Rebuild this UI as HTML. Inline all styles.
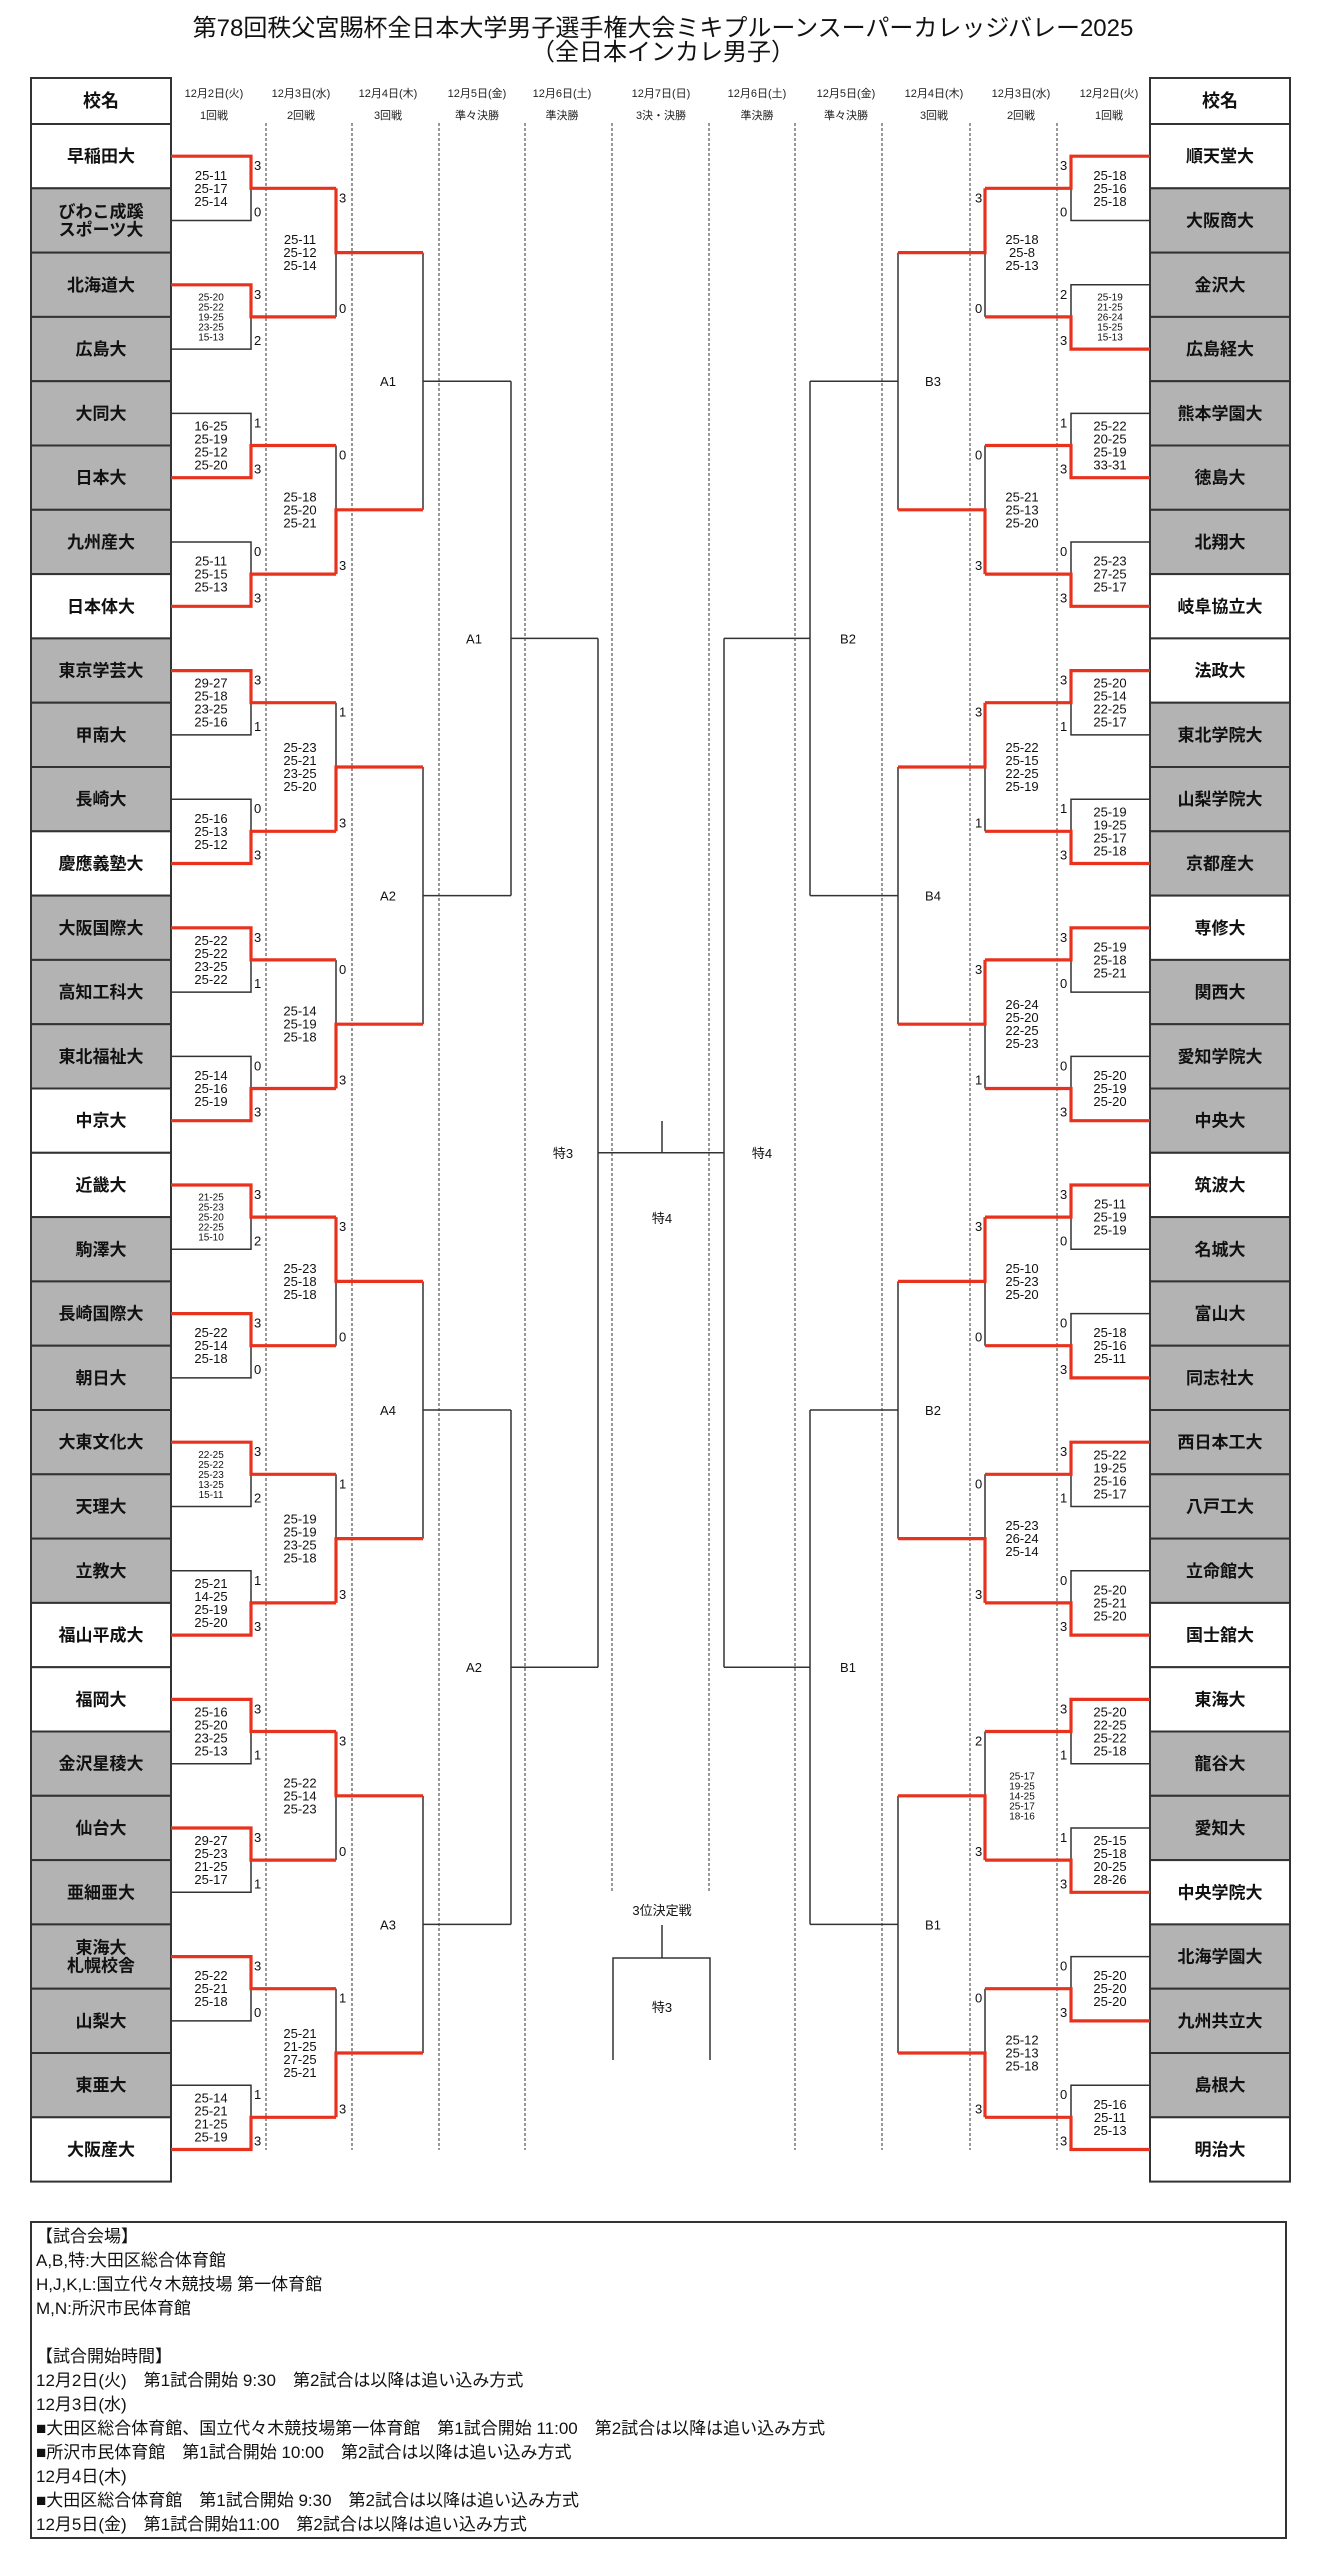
<!DOCTYPE html>
<html><head><meta charset="utf-8">
<style>
html,body{margin:0;padding:0;background:#fff;}
svg{display:block;font-family:"Liberation Sans","Noto Sans CJK JP",sans-serif;}
.nm{font-size:17px;font-weight:bold;text-anchor:middle;fill:#111;}
.s{font-size:13px;text-anchor:middle;fill:#111;}
.ss{font-size:10px;text-anchor:middle;fill:#111;}
.c{font-size:13px;fill:#111;}
.h{font-size:11px;text-anchor:middle;fill:#222;}
.lb{font-size:13px;text-anchor:middle;fill:#111;}
.bk{fill:none;stroke:#333;stroke-width:1.5;}
.rd{fill:none;stroke:#e8321e;stroke-width:3.2;}
.ds{stroke:#333;stroke-width:1;stroke-dasharray:3,2;}
.bt{font-size:17px;fill:#111;}
</style></head><body>
<svg width="1327" height="2560" viewBox="0 0 1327 2560" xmlns="http://www.w3.org/2000/svg">
<text x="663" y="36" style="font-size:24px;text-anchor:middle;fill:#111">第78回秩父宮賜杯全日本大学男子選手権大会ミキプルーンスーパーカレッジバレー2025</text>
<text x="663" y="60" style="font-size:24px;text-anchor:middle;fill:#111">（全日本インカレ男子）</text>

<!-- header -->
<rect x="31" y="78" width="140" height="46" fill="#fff" stroke="#333" stroke-width="2"/>
<text x="101" y="107" class="nm" style="font-size:18px">校名</text>
<rect x="1150" y="78" width="140" height="46" fill="#fff" stroke="#333" stroke-width="2"/>
<text x="1220" y="107" class="nm" style="font-size:18px">校名</text>
<g class="h">
<text x="214" y="97">12月2日(火)</text><text x="214" y="119">1回戦</text>
<text x="301" y="97">12月3日(水)</text><text x="301" y="119">2回戦</text>
<text x="388" y="97">12月4日(木)</text><text x="388" y="119">3回戦</text>
<text x="477" y="97">12月5日(金)</text><text x="477" y="119">準々決勝</text>
<text x="562" y="97">12月6日(土)</text><text x="562" y="119">準決勝</text>
<text x="661" y="97">12月7日(日)</text><text x="661" y="119">3決・決勝</text>
<text x="757" y="97">12月6日(土)</text><text x="757" y="119">準決勝</text>
<text x="846" y="97">12月5日(金)</text><text x="846" y="119">準々決勝</text>
<text x="934" y="97">12月4日(木)</text><text x="934" y="119">3回戦</text>
<text x="1021" y="97">12月3日(水)</text><text x="1021" y="119">2回戦</text>
<text x="1109" y="97">12月2日(火)</text><text x="1109" y="119">1回戦</text>
</g>

<!-- dashed -->
<g class="ds">
<line x1="266" y1="123" x2="266" y2="2150"/><line x1="352" y1="123" x2="352" y2="2150"/>
<line x1="439" y1="123" x2="439" y2="2150"/><line x1="525" y1="123" x2="525" y2="2150"/>
<line x1="612" y1="123" x2="612" y2="1893"/><line x1="709" y1="123" x2="709" y2="1893"/>
<line x1="795" y1="123" x2="795" y2="2150"/><line x1="882" y1="123" x2="882" y2="2150"/>
<line x1="970" y1="123" x2="970" y2="2150"/><line x1="1057" y1="123" x2="1057" y2="2150"/>
</g>

<!-- left names -->
<g stroke="#333" stroke-width="2">
<rect x="31" y="124" width="140" height="64.3" fill="#fff"/>
<rect x="31" y="188.3" width="140" height="64.3" fill="#b3b3b3"/>
<rect x="31" y="252.6" width="140" height="64.3" fill="#b3b3b3"/>
<rect x="31" y="316.9" width="140" height="64.3" fill="#b3b3b3"/>
<rect x="31" y="381.2" width="140" height="64.3" fill="#b3b3b3"/>
<rect x="31" y="445.5" width="140" height="64.3" fill="#b3b3b3"/>
<rect x="31" y="509.8" width="140" height="64.3" fill="#b3b3b3"/>
<rect x="31" y="574.1" width="140" height="64.3" fill="#fff"/>
<rect x="31" y="638.4" width="140" height="64.3" fill="#b3b3b3"/>
<rect x="31" y="702.7" width="140" height="64.3" fill="#b3b3b3"/>
<rect x="31" y="767" width="140" height="64.3" fill="#b3b3b3"/>
<rect x="31" y="831.3" width="140" height="64.3" fill="#fff"/>
<rect x="31" y="895.6" width="140" height="64.3" fill="#b3b3b3"/>
<rect x="31" y="959.9" width="140" height="64.3" fill="#b3b3b3"/>
<rect x="31" y="1024.2" width="140" height="64.3" fill="#b3b3b3"/>
<rect x="31" y="1088.5" width="140" height="64.3" fill="#fff"/>
<rect x="31" y="1152.8" width="140" height="64.3" fill="#fff"/>
<rect x="31" y="1217.1" width="140" height="64.3" fill="#b3b3b3"/>
<rect x="31" y="1281.4" width="140" height="64.3" fill="#b3b3b3"/>
<rect x="31" y="1345.7" width="140" height="64.3" fill="#b3b3b3"/>
<rect x="31" y="1410" width="140" height="64.3" fill="#b3b3b3"/>
<rect x="31" y="1474.3" width="140" height="64.3" fill="#b3b3b3"/>
<rect x="31" y="1538.6" width="140" height="64.3" fill="#b3b3b3"/>
<rect x="31" y="1602.9" width="140" height="64.3" fill="#fff"/>
<rect x="31" y="1667.2" width="140" height="64.3" fill="#fff"/>
<rect x="31" y="1731.5" width="140" height="64.3" fill="#b3b3b3"/>
<rect x="31" y="1795.8" width="140" height="64.3" fill="#b3b3b3"/>
<rect x="31" y="1860.1" width="140" height="64.3" fill="#b3b3b3"/>
<rect x="31" y="1924.4" width="140" height="64.3" fill="#b3b3b3"/>
<rect x="31" y="1988.7" width="140" height="64.3" fill="#b3b3b3"/>
<rect x="31" y="2053" width="140" height="64.3" fill="#b3b3b3"/>
<rect x="31" y="2117.3" width="140" height="64.3" fill="#fff"/>
</g>
<g class="nm">
<text x="101" y="162.2">早稲田大</text>
<text x="101" y="217.5">びわこ成蹊</text><text x="101" y="235.5">スポーツ大</text>
<text x="101" y="290.8">北海道大</text>
<text x="101" y="355.1">広島大</text>
<text x="101" y="419.4">大同大</text>
<text x="101" y="483.7">日本大</text>
<text x="101" y="548">九州産大</text>
<text x="101" y="612.3">日本体大</text>
<text x="101" y="676.6">東京学芸大</text>
<text x="101" y="740.9">甲南大</text>
<text x="101" y="805.2">長崎大</text>
<text x="101" y="869.5">慶應義塾大</text>
<text x="101" y="933.8">大阪国際大</text>
<text x="101" y="998.1">高知工科大</text>
<text x="101" y="1062.4">東北福祉大</text>
<text x="101" y="1126.7">中京大</text>
<text x="101" y="1191">近畿大</text>
<text x="101" y="1255.3">駒澤大</text>
<text x="101" y="1319.6">長崎国際大</text>
<text x="101" y="1383.9">朝日大</text>
<text x="101" y="1448.2">大東文化大</text>
<text x="101" y="1512.5">天理大</text>
<text x="101" y="1576.8">立教大</text>
<text x="101" y="1641.1">福山平成大</text>
<text x="101" y="1705.4">福岡大</text>
<text x="101" y="1769.7">金沢星稜大</text>
<text x="101" y="1834">仙台大</text>
<text x="101" y="1898.3">亜細亜大</text>
<text x="101" y="1953.6">東海大</text><text x="101" y="1971.6">札幌校舎</text>
<text x="101" y="2026.9">山梨大</text>
<text x="101" y="2091.2">東亜大</text>
<text x="101" y="2155.5">大阪産大</text>
</g>

<!-- right names -->
<g stroke="#333" stroke-width="2">
<rect x="1150" y="124" width="140" height="64.3" fill="#fff"/>
<rect x="1150" y="188.3" width="140" height="64.3" fill="#b3b3b3"/>
<rect x="1150" y="252.6" width="140" height="64.3" fill="#b3b3b3"/>
<rect x="1150" y="316.9" width="140" height="64.3" fill="#b3b3b3"/>
<rect x="1150" y="381.2" width="140" height="64.3" fill="#b3b3b3"/>
<rect x="1150" y="445.5" width="140" height="64.3" fill="#b3b3b3"/>
<rect x="1150" y="509.8" width="140" height="64.3" fill="#b3b3b3"/>
<rect x="1150" y="574.1" width="140" height="64.3" fill="#fff"/>
<rect x="1150" y="638.4" width="140" height="64.3" fill="#fff"/>
<rect x="1150" y="702.7" width="140" height="64.3" fill="#b3b3b3"/>
<rect x="1150" y="767" width="140" height="64.3" fill="#b3b3b3"/>
<rect x="1150" y="831.3" width="140" height="64.3" fill="#b3b3b3"/>
<rect x="1150" y="895.6" width="140" height="64.3" fill="#fff"/>
<rect x="1150" y="959.9" width="140" height="64.3" fill="#b3b3b3"/>
<rect x="1150" y="1024.2" width="140" height="64.3" fill="#b3b3b3"/>
<rect x="1150" y="1088.5" width="140" height="64.3" fill="#b3b3b3"/>
<rect x="1150" y="1152.8" width="140" height="64.3" fill="#fff"/>
<rect x="1150" y="1217.1" width="140" height="64.3" fill="#b3b3b3"/>
<rect x="1150" y="1281.4" width="140" height="64.3" fill="#b3b3b3"/>
<rect x="1150" y="1345.7" width="140" height="64.3" fill="#b3b3b3"/>
<rect x="1150" y="1410" width="140" height="64.3" fill="#b3b3b3"/>
<rect x="1150" y="1474.3" width="140" height="64.3" fill="#b3b3b3"/>
<rect x="1150" y="1538.6" width="140" height="64.3" fill="#b3b3b3"/>
<rect x="1150" y="1602.9" width="140" height="64.3" fill="#fff"/>
<rect x="1150" y="1667.2" width="140" height="64.3" fill="#fff"/>
<rect x="1150" y="1731.5" width="140" height="64.3" fill="#b3b3b3"/>
<rect x="1150" y="1795.8" width="140" height="64.3" fill="#b3b3b3"/>
<rect x="1150" y="1860.1" width="140" height="64.3" fill="#fff"/>
<rect x="1150" y="1924.4" width="140" height="64.3" fill="#b3b3b3"/>
<rect x="1150" y="1988.7" width="140" height="64.3" fill="#b3b3b3"/>
<rect x="1150" y="2053" width="140" height="64.3" fill="#b3b3b3"/>
<rect x="1150" y="2117.3" width="140" height="64.3" fill="#fff"/>
</g>
<g class="nm">
<text x="1220" y="162.2">順天堂大</text>
<text x="1220" y="226.5">大阪商大</text>
<text x="1220" y="290.8">金沢大</text>
<text x="1220" y="355.1">広島経大</text>
<text x="1220" y="419.4">熊本学園大</text>
<text x="1220" y="483.7">徳島大</text>
<text x="1220" y="548">北翔大</text>
<text x="1220" y="612.3">岐阜協立大</text>
<text x="1220" y="676.6">法政大</text>
<text x="1220" y="740.9">東北学院大</text>
<text x="1220" y="805.2">山梨学院大</text>
<text x="1220" y="869.5">京都産大</text>
<text x="1220" y="933.8">専修大</text>
<text x="1220" y="998.1">関西大</text>
<text x="1220" y="1062.4">愛知学院大</text>
<text x="1220" y="1126.7">中央大</text>
<text x="1220" y="1191">筑波大</text>
<text x="1220" y="1255.3">名城大</text>
<text x="1220" y="1319.6">富山大</text>
<text x="1220" y="1383.9">同志社大</text>
<text x="1220" y="1448.2">西日本工大</text>
<text x="1220" y="1512.5">八戸工大</text>
<text x="1220" y="1576.8">立命館大</text>
<text x="1220" y="1641.1">国士舘大</text>
<text x="1220" y="1705.4">東海大</text>
<text x="1220" y="1769.7">龍谷大</text>
<text x="1220" y="1834">愛知大</text>
<text x="1220" y="1898.3">中央学院大</text>
<text x="1220" y="1962.6">北海学園大</text>
<text x="1220" y="2026.9">九州共立大</text>
<text x="1220" y="2091.2">島根大</text>
<text x="1220" y="2155.5">明治大</text>
</g>

<!-- LEFT black lines -->
<path class="bk" d="
M171 220.5H251V188.3
M171 349.1H251V316.9
M171 413.4H251V445.5
M171 542H251V574.1
M171 734.9H251V702.7
M171 799.2H251V831.3
M171 992.1H251V959.9
M171 1056.4H251V1088.5
M171 1249.3H251V1217.1
M171 1377.9H251V1345.7
M171 1506.5H251V1474.3
M171 1570.8H251V1602.9
M171 1763.7H251V1731.5
M171 1892.3H251V1860.1
M171 2020.9H251V1988.7
M171 2085.2H251V2117.3
M336 316.9V252.6
M336 445.5V509.8
M336 702.7V767
M336 959.9V1024.2
M336 1345.7V1281.4
M336 1474.3V1538.6
M336 1860.1V1795.8
M336 1988.7V2053
M423 252.6V509.8M423 381.2H511
M423 767V1024.2M423 895.6H511
M423 1281.4V1538.6M423 1410H511
M423 1795.8V2053M423 1924.4H511
M511 381.2V895.6M511 638.4H598
M511 1410V1924.4M511 1667.2H598
M598 638.4V1667.2
M724 638.4V1667.2
M598 1152.8H724
M662 1121V1152.8
M662 1925V1958
M613 2060V1958H710V2060
"/>
<!-- RIGHT black lines -->
<path class="bk" d="
M1150 220.5H1071V188.3
M1150 284.8H1071V316.9
M1150 413.4H1071V445.5
M1150 542H1071V574.1
M1150 734.9H1071V702.7
M1150 799.2H1071V831.3
M1150 992.1H1071V959.9
M1150 1056.4H1071V1088.5
M1150 1249.3H1071V1217.1
M1150 1313.6H1071V1345.7
M1150 1506.5H1071V1474.3
M1150 1570.8H1071V1602.9
M1150 1763.7H1071V1731.5
M1150 1828H1071V1860.1
M1150 1956.6H1071V1988.7
M1150 2085.2H1071V2117.3
M985 316.9V252.6
M985 445.5V509.8
M985 831.3V767
M985 1088.5V1024.2
M985 1345.7V1281.4
M985 1474.3V1538.6
M985 1731.5V1795.8
M985 1988.7V2053
M898 252.6V509.8M898 381.2H810
M898 767V1024.2M898 895.6H810
M898 1281.4V1538.6M898 1410H810
M898 1795.8V2053M898 1924.4H810
M810 381.2V895.6M810 638.4H724
M810 1410V1924.4M810 1667.2H724
"/>
<!-- LEFT red -->
<path class="rd" d="
M171 156.2H251V188.3H336
M171 284.8H251V316.9H336
M171 477.7H251V445.5H336
M171 606.3H251V574.1H336
M171 670.6H251V702.7H336
M171 863.5H251V831.3H336
M171 927.8H251V959.9H336
M171 1120.7H251V1088.5H336
M171 1185H251V1217.1H336
M171 1313.6H251V1345.7H336
M171 1442.2H251V1474.3H336
M171 1635.1H251V1602.9H336
M171 1699.4H251V1731.5H336
M171 1828H251V1860.1H336
M171 1956.6H251V1988.7H336
M171 2149.5H251V2117.3H336
M336 188.3V252.6H423
M336 574.1V509.8H423
M336 831.3V767H423
M336 1088.5V1024.2H423
M336 1217.1V1281.4H423
M336 1602.9V1538.6H423
M336 1731.5V1795.8H423
M336 2117.3V2053H423
"/>
<!-- RIGHT red -->
<path class="rd" d="
M1150 156.2H1071V188.3H985
M1150 349.1H1071V316.9H985
M1150 477.7H1071V445.5H985
M1150 606.3H1071V574.1H985
M1150 670.6H1071V702.7H985
M1150 863.5H1071V831.3H985
M1150 927.8H1071V959.9H985
M1150 1120.7H1071V1088.5H985
M1150 1185H1071V1217.1H985
M1150 1377.9H1071V1345.7H985
M1150 1442.2H1071V1474.3H985
M1150 1635.1H1071V1602.9H985
M1150 1699.4H1071V1731.5H985
M1150 1892.3H1071V1860.1H985
M1150 2020.9H1071V1988.7H985
M1150 2149.5H1071V2117.3H985
M985 188.3V252.6H898
M985 574.1V509.8H898
M985 702.7V767H898
M985 959.9V1024.2H898
M985 1217.1V1281.4H898
M985 1602.9V1538.6H898
M985 1860.1V1795.8H898
M985 2117.3V2053H898
"/>

<!-- left R1 set counts -->
<g class="c">
<text x="254" y="170.2">3</text><text x="254" y="216.5">0</text>
<text x="254" y="298.8">3</text><text x="254" y="345.1">2</text>
<text x="254" y="427.4">1</text><text x="254" y="473.7">3</text>
<text x="254" y="556">0</text><text x="254" y="602.3">3</text>
<text x="254" y="684.6">3</text><text x="254" y="730.9">1</text>
<text x="254" y="813.2">0</text><text x="254" y="859.5">3</text>
<text x="254" y="941.8">3</text><text x="254" y="988.1">1</text>
<text x="254" y="1070.4">0</text><text x="254" y="1116.7">3</text>
<text x="254" y="1199">3</text><text x="254" y="1245.3">2</text>
<text x="254" y="1327.6">3</text><text x="254" y="1373.9">0</text>
<text x="254" y="1456.2">3</text><text x="254" y="1502.5">2</text>
<text x="254" y="1584.8">1</text><text x="254" y="1631.1">3</text>
<text x="254" y="1713.4">3</text><text x="254" y="1759.7">1</text>
<text x="254" y="1842">3</text><text x="254" y="1888.3">1</text>
<text x="254" y="1970.6">3</text><text x="254" y="2016.9">0</text>
<text x="254" y="2099.2">1</text><text x="254" y="2145.5">3</text>
<!-- left R2 -->
<text x="339" y="202.3">3</text><text x="339" y="312.9">0</text>
<text x="339" y="459.5">0</text><text x="339" y="570.1">3</text>
<text x="339" y="716.7">1</text><text x="339" y="827.3">3</text>
<text x="339" y="973.9">0</text><text x="339" y="1084.5">3</text>
<text x="339" y="1231.1">3</text><text x="339" y="1341.7">0</text>
<text x="339" y="1488.3">1</text><text x="339" y="1598.9">3</text>
<text x="339" y="1745.5">3</text><text x="339" y="1856.1">0</text>
<text x="339" y="2002.7">1</text><text x="339" y="2113.3">3</text>
<!-- right R1 -->
<text x="1060" y="170.2">3</text><text x="1060" y="216.5">0</text>
<text x="1060" y="298.8">2</text><text x="1060" y="345.1">3</text>
<text x="1060" y="427.4">1</text><text x="1060" y="473.7">3</text>
<text x="1060" y="556">0</text><text x="1060" y="602.3">3</text>
<text x="1060" y="684.6">3</text><text x="1060" y="730.9">1</text>
<text x="1060" y="813.2">1</text><text x="1060" y="859.5">3</text>
<text x="1060" y="941.8">3</text><text x="1060" y="988.1">0</text>
<text x="1060" y="1070.4">0</text><text x="1060" y="1116.7">3</text>
<text x="1060" y="1199">3</text><text x="1060" y="1245.3">0</text>
<text x="1060" y="1327.6">0</text><text x="1060" y="1373.9">3</text>
<text x="1060" y="1456.2">3</text><text x="1060" y="1502.5">1</text>
<text x="1060" y="1584.8">0</text><text x="1060" y="1631.1">3</text>
<text x="1060" y="1713.4">3</text><text x="1060" y="1759.7">1</text>
<text x="1060" y="1842">1</text><text x="1060" y="1888.3">3</text>
<text x="1060" y="1970.6">0</text><text x="1060" y="2016.9">3</text>
<text x="1060" y="2099.2">0</text><text x="1060" y="2145.5">3</text>
<!-- right R2 -->
<text x="975" y="202.3">3</text><text x="975" y="312.9">0</text>
<text x="975" y="459.5">0</text><text x="975" y="570.1">3</text>
<text x="975" y="716.7">3</text><text x="975" y="827.3">1</text>
<text x="975" y="973.9">3</text><text x="975" y="1084.5">1</text>
<text x="975" y="1231.1">3</text><text x="975" y="1341.7">0</text>
<text x="975" y="1488.3">0</text><text x="975" y="1598.9">3</text>
<text x="975" y="1745.5">2</text><text x="975" y="1856.1">3</text>
<text x="975" y="2002.7">0</text><text x="975" y="2113.3">3</text>
</g>

<!-- left R1 scores -->
<text class="s" x="211" y="179.8"><tspan x="211">25-11</tspan><tspan x="211" dy="13">25-17</tspan><tspan x="211" dy="13">25-14</tspan></text>
<text class="ss" x="211" y="300.4"><tspan x="211">25-20</tspan><tspan x="211" dy="10">25-22</tspan><tspan x="211" dy="10">19-25</tspan><tspan x="211" dy="10">23-25</tspan><tspan x="211" dy="10">15-13</tspan></text>
<text class="s" x="211" y="430.5"><tspan x="211">16-25</tspan><tspan x="211" dy="13">25-19</tspan><tspan x="211" dy="13">25-12</tspan><tspan x="211" dy="13">25-20</tspan></text>
<text class="s" x="211" y="565.6"><tspan x="211">25-11</tspan><tspan x="211" dy="13">25-15</tspan><tspan x="211" dy="13">25-13</tspan></text>
<text class="s" x="211" y="687.7"><tspan x="211">29-27</tspan><tspan x="211" dy="13">25-18</tspan><tspan x="211" dy="13">23-25</tspan><tspan x="211" dy="13">25-16</tspan></text>
<text class="s" x="211" y="822.8"><tspan x="211">25-16</tspan><tspan x="211" dy="13">25-13</tspan><tspan x="211" dy="13">25-12</tspan></text>
<text class="s" x="211" y="944.9"><tspan x="211">25-22</tspan><tspan x="211" dy="13">25-22</tspan><tspan x="211" dy="13">23-25</tspan><tspan x="211" dy="13">25-22</tspan></text>
<text class="s" x="211" y="1080"><tspan x="211">25-14</tspan><tspan x="211" dy="13">25-16</tspan><tspan x="211" dy="13">25-19</tspan></text>
<text class="ss" x="211" y="1200.6"><tspan x="211">21-25</tspan><tspan x="211" dy="10">25-23</tspan><tspan x="211" dy="10">25-20</tspan><tspan x="211" dy="10">22-25</tspan><tspan x="211" dy="10">15-10</tspan></text>
<text class="s" x="211" y="1337.2"><tspan x="211">25-22</tspan><tspan x="211" dy="13">25-14</tspan><tspan x="211" dy="13">25-18</tspan></text>
<text class="ss" x="211" y="1457.8"><tspan x="211">22-25</tspan><tspan x="211" dy="10">25-22</tspan><tspan x="211" dy="10">25-23</tspan><tspan x="211" dy="10">13-25</tspan><tspan x="211" dy="10">15-11</tspan></text>
<text class="s" x="211" y="1587.9"><tspan x="211">25-21</tspan><tspan x="211" dy="13">14-25</tspan><tspan x="211" dy="13">25-19</tspan><tspan x="211" dy="13">25-20</tspan></text>
<text class="s" x="211" y="1716.5"><tspan x="211">25-16</tspan><tspan x="211" dy="13">25-20</tspan><tspan x="211" dy="13">23-25</tspan><tspan x="211" dy="13">25-13</tspan></text>
<text class="s" x="211" y="1845.1"><tspan x="211">29-27</tspan><tspan x="211" dy="13">25-23</tspan><tspan x="211" dy="13">21-25</tspan><tspan x="211" dy="13">25-17</tspan></text>
<text class="s" x="211" y="1980.2"><tspan x="211">25-22</tspan><tspan x="211" dy="13">25-21</tspan><tspan x="211" dy="13">25-18</tspan></text>
<text class="s" x="211" y="2102.3"><tspan x="211">25-14</tspan><tspan x="211" dy="13">25-21</tspan><tspan x="211" dy="13">21-25</tspan><tspan x="211" dy="13">25-19</tspan></text>

<!-- left R2 scores -->
<text class="s" x="300" y="244.1"><tspan x="300">25-11</tspan><tspan x="300" dy="13">25-12</tspan><tspan x="300" dy="13">25-14</tspan></text>
<text class="s" x="300" y="501.3"><tspan x="300">25-18</tspan><tspan x="300" dy="13">25-20</tspan><tspan x="300" dy="13">25-21</tspan></text>
<text class="s" x="300" y="752"><tspan x="300">25-23</tspan><tspan x="300" dy="13">25-21</tspan><tspan x="300" dy="13">23-25</tspan><tspan x="300" dy="13">25-20</tspan></text>
<text class="s" x="300" y="1015.7"><tspan x="300">25-14</tspan><tspan x="300" dy="13">25-19</tspan><tspan x="300" dy="13">25-18</tspan></text>
<text class="s" x="300" y="1272.9"><tspan x="300">25-23</tspan><tspan x="300" dy="13">25-18</tspan><tspan x="300" dy="13">25-18</tspan></text>
<text class="s" x="300" y="1523.6"><tspan x="300">25-19</tspan><tspan x="300" dy="13">25-19</tspan><tspan x="300" dy="13">23-25</tspan><tspan x="300" dy="13">25-18</tspan></text>
<text class="s" x="300" y="1787.3"><tspan x="300">25-22</tspan><tspan x="300" dy="13">25-14</tspan><tspan x="300" dy="13">25-23</tspan></text>
<text class="s" x="300" y="2038"><tspan x="300">25-21</tspan><tspan x="300" dy="13">21-25</tspan><tspan x="300" dy="13">27-25</tspan><tspan x="300" dy="13">25-21</tspan></text>

<!-- right R1 scores -->
<text class="s" x="1110" y="179.8"><tspan x="1110">25-18</tspan><tspan x="1110" dy="13">25-16</tspan><tspan x="1110" dy="13">25-18</tspan></text>
<text class="ss" x="1110" y="300.4"><tspan x="1110">25-19</tspan><tspan x="1110" dy="10">21-25</tspan><tspan x="1110" dy="10">26-24</tspan><tspan x="1110" dy="10">15-25</tspan><tspan x="1110" dy="10">15-13</tspan></text>
<text class="s" x="1110" y="430.5"><tspan x="1110">25-22</tspan><tspan x="1110" dy="13">20-25</tspan><tspan x="1110" dy="13">25-19</tspan><tspan x="1110" dy="13">33-31</tspan></text>
<text class="s" x="1110" y="565.6"><tspan x="1110">25-23</tspan><tspan x="1110" dy="13">27-25</tspan><tspan x="1110" dy="13">25-17</tspan></text>
<text class="s" x="1110" y="687.7"><tspan x="1110">25-20</tspan><tspan x="1110" dy="13">25-14</tspan><tspan x="1110" dy="13">22-25</tspan><tspan x="1110" dy="13">25-17</tspan></text>
<text class="s" x="1110" y="816.3"><tspan x="1110">25-19</tspan><tspan x="1110" dy="13">19-25</tspan><tspan x="1110" dy="13">25-17</tspan><tspan x="1110" dy="13">25-18</tspan></text>
<text class="s" x="1110" y="951.4"><tspan x="1110">25-19</tspan><tspan x="1110" dy="13">25-18</tspan><tspan x="1110" dy="13">25-21</tspan></text>
<text class="s" x="1110" y="1080"><tspan x="1110">25-20</tspan><tspan x="1110" dy="13">25-19</tspan><tspan x="1110" dy="13">25-20</tspan></text>
<text class="s" x="1110" y="1208.6"><tspan x="1110">25-11</tspan><tspan x="1110" dy="13">25-19</tspan><tspan x="1110" dy="13">25-19</tspan></text>
<text class="s" x="1110" y="1337.2"><tspan x="1110">25-18</tspan><tspan x="1110" dy="13">25-16</tspan><tspan x="1110" dy="13">25-11</tspan></text>
<text class="s" x="1110" y="1459.3"><tspan x="1110">25-22</tspan><tspan x="1110" dy="13">19-25</tspan><tspan x="1110" dy="13">25-16</tspan><tspan x="1110" dy="13">25-17</tspan></text>
<text class="s" x="1110" y="1594.4"><tspan x="1110">25-20</tspan><tspan x="1110" dy="13">25-21</tspan><tspan x="1110" dy="13">25-20</tspan></text>
<text class="s" x="1110" y="1716.5"><tspan x="1110">25-20</tspan><tspan x="1110" dy="13">22-25</tspan><tspan x="1110" dy="13">25-22</tspan><tspan x="1110" dy="13">25-18</tspan></text>
<text class="s" x="1110" y="1845.1"><tspan x="1110">25-15</tspan><tspan x="1110" dy="13">25-18</tspan><tspan x="1110" dy="13">20-25</tspan><tspan x="1110" dy="13">28-26</tspan></text>
<text class="s" x="1110" y="1980.2"><tspan x="1110">25-20</tspan><tspan x="1110" dy="13">25-20</tspan><tspan x="1110" dy="13">25-20</tspan></text>
<text class="s" x="1110" y="2108.8"><tspan x="1110">25-16</tspan><tspan x="1110" dy="13">25-11</tspan><tspan x="1110" dy="13">25-13</tspan></text>

<!-- right R2 scores -->
<text class="s" x="1022" y="244.1"><tspan x="1022">25-18</tspan><tspan x="1022" dy="13">25-8</tspan><tspan x="1022" dy="13">25-13</tspan></text>
<text class="s" x="1022" y="501.3"><tspan x="1022">25-21</tspan><tspan x="1022" dy="13">25-13</tspan><tspan x="1022" dy="13">25-20</tspan></text>
<text class="s" x="1022" y="752"><tspan x="1022">25-22</tspan><tspan x="1022" dy="13">25-15</tspan><tspan x="1022" dy="13">22-25</tspan><tspan x="1022" dy="13">25-19</tspan></text>
<text class="s" x="1022" y="1009.2"><tspan x="1022">26-24</tspan><tspan x="1022" dy="13">25-20</tspan><tspan x="1022" dy="13">22-25</tspan><tspan x="1022" dy="13">25-23</tspan></text>
<text class="s" x="1022" y="1272.9"><tspan x="1022">25-10</tspan><tspan x="1022" dy="13">25-23</tspan><tspan x="1022" dy="13">25-20</tspan></text>
<text class="s" x="1022" y="1530.1"><tspan x="1022">25-23</tspan><tspan x="1022" dy="13">26-24</tspan><tspan x="1022" dy="13">25-14</tspan></text>
<text class="ss" x="1022" y="1779.3"><tspan x="1022">25-17</tspan><tspan x="1022" dy="10">19-25</tspan><tspan x="1022" dy="10">14-25</tspan><tspan x="1022" dy="10">25-17</tspan><tspan x="1022" dy="10">18-16</tspan></text>
<text class="s" x="1022" y="2044.5"><tspan x="1022">25-12</tspan><tspan x="1022" dy="13">25-13</tspan><tspan x="1022" dy="13">25-18</tspan></text>

<!-- block labels -->
<g class="lb">
<text x="388" y="386">A1</text><text x="388" y="900.5">A2</text><text x="388" y="1415">A4</text><text x="388" y="1929.5">A3</text>
<text x="474" y="643.5">A1</text><text x="474" y="1672">A2</text>
<text x="933" y="386">B3</text><text x="933" y="900.5">B4</text><text x="933" y="1415">B2</text><text x="933" y="1929.5">B1</text>
<text x="848" y="643.5">B2</text><text x="848" y="1672">B1</text>
<text x="563" y="1158">特3</text><text x="762" y="1158">特4</text>
<text x="662" y="1223">特4</text>
<text x="662" y="1915">3位決定戦</text>
<text x="662" y="2012">特3</text>
</g>

<!-- bottom info -->
<rect x="31" y="2222" width="1255" height="316" fill="#fff" stroke="#333" stroke-width="2"/>
<g class="bt">
<text x="36" y="2242">【試合会場】</text>
<text x="36" y="2266">A,B,特:大田区総合体育館</text>
<text x="36" y="2290">H,J,K,L:国立代々木競技場 第一体育館</text>
<text x="36" y="2314">M,N:所沢市民体育館</text>
<text x="36" y="2362">【試合開始時間】</text>
<text x="36" y="2386">12月2日(火)　第1試合開始 9:30　第2試合は以降は追い込み方式</text>
<text x="36" y="2410">12月3日(水)</text>
<text x="36" y="2434">■大田区総合体育館、国立代々木競技場第一体育館　第1試合開始 11:00　第2試合は以降は追い込み方式</text>
<text x="36" y="2458">■所沢市民体育館　第1試合開始 10:00　第2試合は以降は追い込み方式</text>
<text x="36" y="2482">12月4日(木)</text>
<text x="36" y="2506">■大田区総合体育館　第1試合開始 9:30　第2試合は以降は追い込み方式</text>
<text x="36" y="2530">12月5日(金)　第1試合開始11:00　第2試合は以降は追い込み方式</text>
</g>
</svg>
</body></html>
